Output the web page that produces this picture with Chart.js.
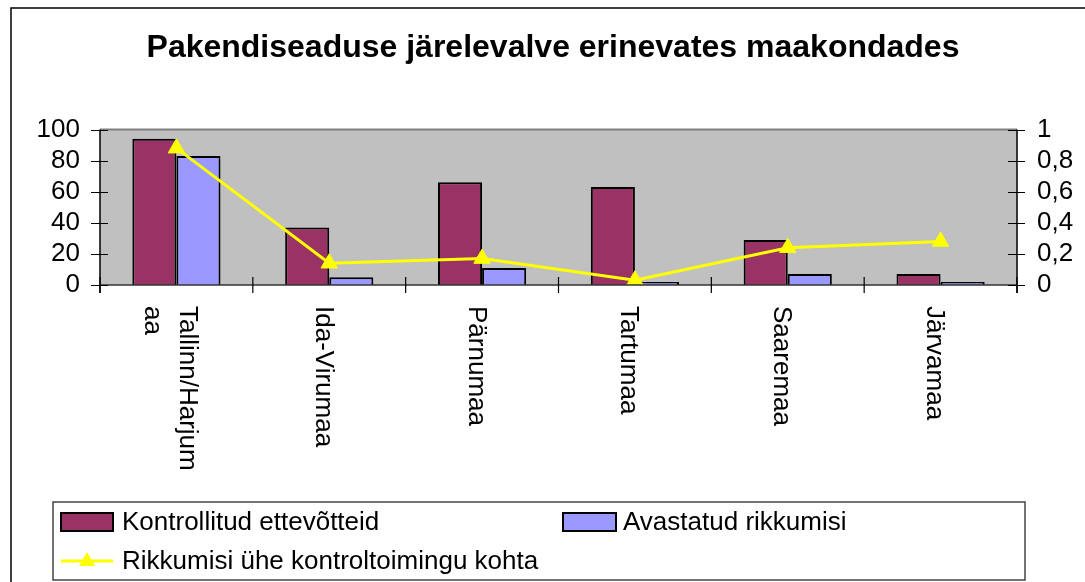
<!DOCTYPE html>
<html>
<head>
<meta charset="utf-8">
<script src="https://cdn.jsdelivr.net/npm/chart.js@4"></script>
<style>
  html, body { margin: 0; padding: 0; background: #fff; }
  #c { display: block; }
</style>
</head>
<body>
<canvas id="c" width="1085" height="582"></canvas>
<script>
// ---- data ----
const titleText = 'Pakendiseaduse järelevalve erinevates maakondades';
const categories = ['Tallinn/Harjumaa', 'Ida-Virumaa', 'Pärnumaa', 'Tartumaa', 'Saaremaa', 'Järvamaa'];
const kontrollitud = [94, 37, 66, 63, 29, 7];
const rikkumisi = [83, 5, 11, 2, 7, 2];
const rikkumisiKohta = [0.88, 0.14, 0.17, 0.03, 0.24, 0.28];
const seriesNames = ['Kontrollitud ettevõtteid', 'Avastatud rikkumisi', 'Rikkumisi ühe kontroltoimingu kohta'];
const leftAxis = { min: 0, max: 100, step: 20 };
const rightAxis = { min: 0, max: 1, step: 0.2 };

// ---- style ----
const FONT = '"Liberation Sans", Arial, sans-serif';
const MAROON = '#993366';
const BLUE = '#9999FF';
const YELLOW = '#FFFF00';

function wrapChars(ctx, text, maxW) {
  const lines = [];
  let cur = '';
  for (const ch of text) {
    if (cur && ctx.measureText(cur + ch).width > maxW) { lines.push(cur); cur = ch; }
    else cur += ch;
  }
  if (cur) lines.push(cur);
  return lines;
}

const decor = {
  id: 'decor',
  beforeDraw(chart) {
    const { ctx, chartArea: a } = chart;
    ctx.save();
    ctx.fillStyle = '#fff';
    ctx.fillRect(0, 0, chart.width, chart.height);
    // outer border
    ctx.strokeStyle = '#000';
    ctx.lineWidth = 1.5;
    ctx.strokeRect(11, 8, 1090, 600);
    // plot background
    ctx.fillStyle = '#C0C0C0';
    ctx.fillRect(a.left, a.top, a.right - a.left, a.bottom - a.top);
    ctx.strokeStyle = '#808080';
    ctx.lineWidth = 2;
    ctx.beginPath(); ctx.moveTo(a.left, a.top); ctx.lineTo(a.right, a.top); ctx.stroke();
    // title
    ctx.fillStyle = '#000';
    ctx.font = 'bold 32px ' + FONT;
    ctx.textAlign = 'center';
    ctx.textBaseline = 'middle';
    ctx.fillText(titleText, 553, 48);
    ctx.restore();
  },
  afterDatasetsDraw(chart) {
    const { ctx, chartArea: a, scales } = chart;
    const x = scales.x, y = scales.y, y1 = scales.y1;
    ctx.save();
    // axes lines
    ctx.lineWidth = 1.5;
    ctx.strokeStyle = '#000';
    ctx.beginPath();
    ctx.moveTo(a.left, a.top); ctx.lineTo(a.left, a.bottom + 8);
    ctx.moveTo(a.right, a.top); ctx.lineTo(a.right, a.bottom + 8);
    ctx.stroke();
    ctx.strokeStyle = '#333';
    ctx.beginPath();
    ctx.moveTo(a.left, a.bottom); ctx.lineTo(a.right, a.bottom);
    ctx.stroke();
    // tick marks
    ctx.strokeStyle = '#000';
    ctx.lineWidth = 1.2;
    ctx.beginPath();
    y.ticks.forEach(t => {
      const py = Math.round(y.getPixelForValue(t.value)) + 0.5;
      ctx.moveTo(a.left - 9, py); ctx.lineTo(a.left + 8, py);
    });
    y1.ticks.forEach(t => {
      const py = Math.round(y1.getPixelForValue(t.value)) + 0.5;
      ctx.moveTo(a.right - 9, py); ctx.lineTo(a.right + 8, py);
    });
    const n = categories.length;
    for (let i = 0; i <= n; i++) {
      const px = i < n ? x.getPixelForValue(i) - (x.getPixelForValue(1) - x.getPixelForValue(0)) / 2 : a.right;
      ctx.moveTo(px, a.bottom - 8); ctx.lineTo(px, a.bottom + 8);
    }
    ctx.stroke();

    // category labels, rotated clockwise
    ctx.fillStyle = '#000';
    ctx.font = '26px ' + FONT;
    ctx.textAlign = 'left';
    ctx.textBaseline = 'alphabetic';
    categories.forEach((cat, i) => {
      const c = x.getPixelForValue(i);
      const lines = wrapChars(ctx, cat, 175);
      const b0 = c - 13.5 + (lines.length - 1) * 17.5;
      lines.forEach((ln, k) => {
        ctx.save();
        ctx.translate(b0 - k * 35, a.bottom + 21);
        ctx.rotate(Math.PI / 2);
        ctx.fillText(ln, 0, 0);
        ctx.restore();
      });
    });

    // legend
    ctx.strokeStyle = '#444';
    ctx.lineWidth = 1.5;
    ctx.strokeRect(53, 502, 972, 78);
    ctx.font = '26px ' + FONT;
    ctx.textBaseline = 'middle';
    ctx.fillStyle = MAROON;
    ctx.fillRect(61, 513, 52, 18);
    ctx.strokeStyle = '#000'; ctx.lineWidth = 2;
    ctx.strokeRect(61, 513, 52, 18);
    ctx.fillStyle = '#000';
    ctx.fillText(seriesNames[0], 122, 523);
    ctx.fillStyle = BLUE;
    ctx.fillRect(563, 513, 53, 18);
    ctx.strokeRect(563, 513, 53, 18);
    ctx.fillStyle = '#000';
    ctx.fillText(seriesNames[1], 623, 523);
    ctx.strokeStyle = YELLOW; ctx.lineWidth = 3;
    ctx.beginPath(); ctx.moveTo(61, 561); ctx.lineTo(113, 561); ctx.stroke();
    ctx.fillStyle = YELLOW;
    ctx.beginPath();
    ctx.moveTo(87, 552); ctx.lineTo(95, 566); ctx.lineTo(79, 566); ctx.closePath(); ctx.fill();
    ctx.fillStyle = '#000';
    ctx.fillText(seriesNames[2], 122, 562);
    ctx.restore();
  }
};

new Chart(document.getElementById('c'), {
  data: {
    labels: categories,
    datasets: [
      { type: 'bar', label: seriesNames[0], data: kontrollitud, yAxisID: 'y',
        backgroundColor: MAROON, borderColor: '#000', borderWidth: 2,
        categoryPercentage: 0.577, barPercentage: 1, order: 2 },
      { type: 'bar', label: seriesNames[1], data: rikkumisi, yAxisID: 'y',
        backgroundColor: BLUE, borderColor: '#000', borderWidth: 2,
        categoryPercentage: 0.577, barPercentage: 1, order: 2 },
      { type: 'line', label: seriesNames[2], data: rikkumisiKohta, yAxisID: 'y1',
        borderColor: YELLOW, borderWidth: 3, tension: 0,
        pointStyle: 'triangle', pointRadius: 9.5, pointHoverRadius: 9.5,
        pointBackgroundColor: YELLOW, pointBorderColor: YELLOW, pointBorderWidth: 1,
        order: 0 }
    ]
  },
  options: {
    responsive: false,
    animation: false,
    events: [],
    layout: { padding: { top: 129.5, left: 0, right: 0, bottom: 0 } },
    plugins: { legend: { display: false }, title: { display: false }, tooltip: { enabled: false } },
    scales: {
      x: {
        type: 'category',
        offset: true,
        grid: { display: false, drawTicks: false },
        border: { display: false },
        ticks: { display: false },
        afterFit(s) { s.height = 297; }
      },
      y: {
        position: 'left',
        min: leftAxis.min, max: leftAxis.max,
        grid: { display: false, drawTicks: false },
        border: { display: false },
        ticks: { stepSize: leftAxis.step, autoSkip: false, padding: 20, color: '#000', font: { family: FONT, size: 26 } },
        afterFit(s) { s.width = 100; }
      },
      y1: {
        position: 'right',
        min: rightAxis.min, max: rightAxis.max,
        grid: { display: false, drawTicks: false },
        border: { display: false },
        ticks: { stepSize: rightAxis.step, autoSkip: false, padding: 20, color: '#000', font: { family: FONT, size: 26 },
          callback: v => String(Math.round(v * 10) / 10).replace('.', ',') },
        afterFit(s) { s.width = 68; }
      }
    }
  },
  plugins: [decor]
});
</script>
</body>
</html>
